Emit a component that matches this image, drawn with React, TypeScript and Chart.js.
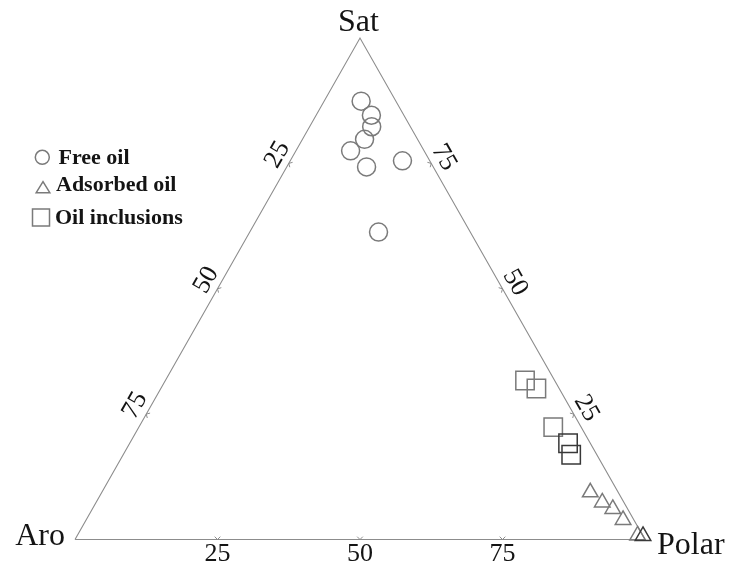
import React, { useEffect, useRef } from "react";
import { Chart, registerables } from "chart.js";

Chart.register(...registerables);

// ---------------- data (ternary percentages) ----------------
const vertexNames = ["Sat", "Aro", "Polar"];
const tickValues = [25, 50, 75];
const seriesNames = ["Free oil", "Adsorbed oil", "Oil inclusions"];

const freeSat = [87.4, 84.6, 82.3, 79.8, 77.5, 74.3, 75.5, 61.3];
const freeAro = [6.1, 5.7, 6.8, 9.3, 12.9, 11.7, 4.8, 16.1];
const freePolar = [6.5, 9.7, 10.9, 10.9, 9.6, 14.0, 19.7, 22.6];

const adsorbedSat = [9.4, 7.4, 6.1, 3.9, 0.8, 0.7];
const adsorbedAro = [4.9, 3.8, 2.6, 1.9, 0.9, 0.0];
const adsorbedPolar = [85.7, 88.8, 91.3, 94.2, 98.3, 99.3];

const inclusionSat = [31.7, 30.1, 22.4, 19.2, 16.9];
const inclusionAro = [5.2, 4.0, 4.9, 3.9, 4.5];
const inclusionPolar = [63.1, 65.9, 72.7, 76.9, 78.6];

// points drawn with a darker outline (overplotted in the source)
const darkAdsorbed = [5];
const darkInclusions = [3, 4];

// ---------------- styling ----------------
const W = 734;
const H = 566;
const FONT = '"Liberation Serif", "Times New Roman", serif';
const LINE = "#8c8c8c";
const MARK = "#7a7a7a";
const MARK_DARK = "#383838";
const TEXT = "#141414";

type XY = { x: number; y: number };

function toXY(sat: number, aro: number, polar: number): XY {
  const t = sat + aro + polar;
  const s = (sat / t) * 100;
  const p = (polar / t) * 100;
  return { x: p + s / 2, y: s };
}

function series(sat: number[], aro: number[], polar: number[]): XY[] {
  return sat.map((s, i) => toXY(s, aro[i], polar[i]));
}

const ternaryPlugin = {
  id: "ternaryDecor",
  afterDraw(chart: any) {
    const ctx: CanvasRenderingContext2D = chart.ctx;
    const xs = chart.scales.x;
    const ys = chart.scales.y;
    const pix = (p: XY): XY => ({ x: xs.getPixelForValue(p.x), y: ys.getPixelForValue(p.y) });
    const S = pix(toXY(100, 0, 0));
    const A = pix(toXY(0, 100, 0));
    const P = pix(toXY(0, 0, 100));

    const axes = [
      { from: A, to: S, at: (v: number) => toXY(100 - v, v, 0), rotate: true, off: 16, along: 2 },
      { from: S, to: P, at: (v: number) => toXY(v, 0, 100 - v), rotate: true, off: 16, along: 1 },
      { from: P, to: A, at: (v: number) => toXY(0, 100 - v, v), rotate: false, off: 12.5, along: 0 },
    ];

    ctx.save();
    const tickFont = 26;
    for (const ax of axes) {
      const dx = ax.to.x - ax.from.x;
      const dy = ax.to.y - ax.from.y;
      const len = Math.hypot(dx, dy);
      const d = { x: dx / len, y: dy / len };
      const n = { x: d.y, y: -d.x }; // outward normal
      const angle = ax.rotate ? Math.atan2(d.y, d.x) : 0;
      for (const v of tickValues) {
        const t = pix(ax.at(v));
        // chevron tick pointing at the edge
        const ix = -n.x;
        const iy = -n.y;
        const c = Math.SQRT1_2;
        const L = 4;
        const a1 = { x: (ix - iy) * c, y: (ix + iy) * c };
        const a2 = { x: (ix + iy) * c, y: (-ix + iy) * c };
        ctx.strokeStyle = LINE;
        ctx.lineWidth = 1;
        ctx.beginPath();
        ctx.moveTo(t.x + a1.x * L, t.y + a1.y * L);
        ctx.lineTo(t.x, t.y);
        ctx.lineTo(t.x + a2.x * L, t.y + a2.y * L);
        ctx.stroke();
        // label
        const cx = t.x + n.x * ax.off + d.x * ax.along;
        const cy = t.y + n.y * ax.off + d.y * ax.along;
        ctx.save();
        ctx.translate(cx, cy);
        ctx.rotate(angle);
        ctx.fillStyle = TEXT;
        ctx.font = `${tickFont}px ${FONT}`;
        ctx.textAlign = "center";
        ctx.textBaseline = "alphabetic";
        ctx.fillText(String(v), 0, tickFont * 0.34);
        ctx.restore();
      }
    }

    // vertex labels
    ctx.fillStyle = TEXT;
    ctx.font = `32px ${FONT}`;
    ctx.textBaseline = "alphabetic";
    ctx.textAlign = "center";
    ctx.fillText(vertexNames[0], S.x - 1.5, S.y - 7);
    ctx.textAlign = "right";
    ctx.fillText(vertexNames[1], A.x - 10, A.y + 5.5);
    ctx.textAlign = "left";
    ctx.fillText(vertexNames[2], P.x + 12, P.y + 14);

    // legend
    ctx.strokeStyle = MARK;
    ctx.lineWidth = 1.5;
    ctx.beginPath();
    ctx.arc(42.3, 157.3, 7, 0, Math.PI * 2);
    ctx.stroke();
    ctx.beginPath();
    ctx.moveTo(43, 181.7);
    ctx.lineTo(49.8, 192.7);
    ctx.lineTo(36.2, 192.7);
    ctx.closePath();
    ctx.stroke();
    ctx.strokeRect(32.5, 209, 17, 17);
    ctx.fillStyle = TEXT;
    ctx.font = `bold 22px ${FONT}`;
    ctx.textAlign = "left";
    ctx.fillText(seriesNames[0], 58.5, 164);
    ctx.fillText(seriesNames[1], 56, 191);
    ctx.fillText(seriesNames[2], 55, 224);
    ctx.restore();
  },
};

export default function App() {
  const ref = useRef<HTMLCanvasElement | null>(null);

  useEffect(() => {
    if (!ref.current) return;
    const outline = [toXY(0, 100, 0), toXY(0, 0, 100), toXY(100, 0, 0), toXY(0, 100, 0)];
    const colorFor = (dark: number[]) => (c: any) => (dark.includes(c.dataIndex) ? MARK_DARK : MARK);
    const chart = new Chart(ref.current, {
      type: "scatter",
      data: {
        datasets: [
          {
            label: seriesNames[0],
            data: series(freeSat, freeAro, freePolar),
            pointStyle: "circle",
            pointRadius: 9,
            pointBorderWidth: 1.5,
            pointBorderColor: MARK,
            pointBackgroundColor: "rgba(0,0,0,0)",
            clip: false,
          } as any,
          {
            label: seriesNames[1],
            data: series(adsorbedSat, adsorbedAro, adsorbedPolar),
            pointStyle: "triangle",
            pointRadius: 9,
            pointBorderWidth: 1.5,
            pointBorderColor: colorFor(darkAdsorbed),
            pointBackgroundColor: "rgba(0,0,0,0)",
            clip: false,
          } as any,
          {
            label: seriesNames[2],
            data: series(inclusionSat, inclusionAro, inclusionPolar),
            pointStyle: "rect",
            pointRadius: 13,
            pointBorderWidth: 1.5,
            pointBorderColor: colorFor(darkInclusions),
            pointBackgroundColor: "rgba(0,0,0,0)",
            clip: false,
          } as any,
          {
            label: "outline",
            data: outline,
            showLine: true,
            pointRadius: 0,
            borderColor: LINE,
            borderWidth: 1.1,
            fill: false,
            clip: false,
          } as any,
        ],
      },
      options: {
        animation: false,
        responsive: false,
        events: [],
        layout: { padding: { left: 75, right: W - 645, top: 38, bottom: H - 539.5 } },
        scales: {
          x: { type: "linear", min: 0, max: 100, display: false },
          y: { type: "linear", min: 0, max: 100, display: false },
        },
        plugins: {
          legend: { display: false },
          tooltip: { enabled: false },
        },
      },
      plugins: [ternaryPlugin],
    });
    return () => chart.destroy();
  }, []);

  return (
    <div style={{ position: "absolute", left: 0, top: 0, width: W, height: H, background: "#fff" }}>
      <canvas ref={ref} width={W} height={H} style={{ display: "block" }} />
    </div>
  );
}
